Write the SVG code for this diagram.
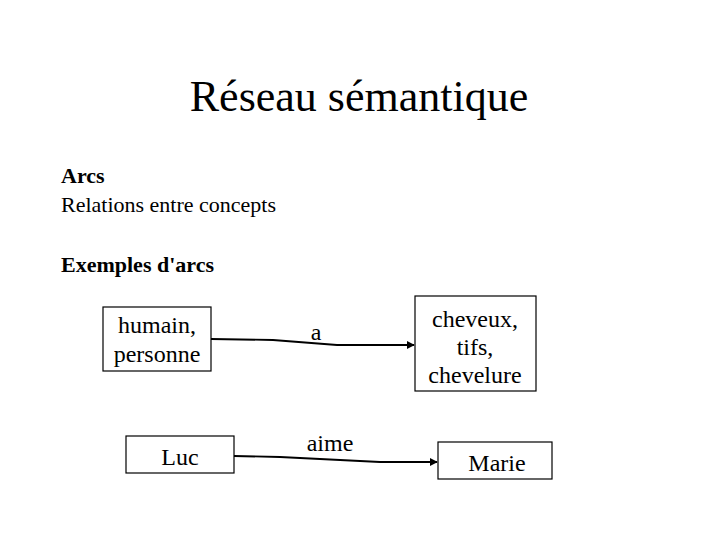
<svg xmlns="http://www.w3.org/2000/svg" width="720" height="540" viewBox="0 0 720 540">
<style>
text{font-family:"Liberation Serif","Times New Roman",serif;fill:#000}
.node rect{fill:#fff;stroke:#000;stroke-width:1.2}
.node text{font-size:24px;text-anchor:middle}
.edge{fill:none;stroke:#000;stroke-width:1.8}
.lbl{font-size:24px;text-anchor:middle}
</style>
<defs>
<marker id="ah" viewBox="0 0 10 10" refX="9" refY="5" markerWidth="4.5" markerHeight="4.5" orient="auto" markerUnits="strokeWidth">
<path d="M0,0 L10,5 L0,10 z" fill="#000"/>
</marker>
</defs>
<rect width="720" height="540" fill="#fff"/>
<text x="359" y="111" font-size="44" text-anchor="middle">Réseau sémantique</text>
<text x="61" y="183" font-size="22" font-weight="bold">Arcs</text>
<text x="61" y="212" font-size="22">Relations entre concepts</text>
<text x="61" y="272" font-size="22" font-weight="bold">Exemples d'arcs</text>
<g id="n-humain" class="node">
<rect x="103" y="307" width="108" height="64"/>
<text x="157" y="333">humain,</text>
<text x="157" y="362">personne</text>
</g>
<g id="n-cheveux" class="node">
<rect x="415" y="296" width="121" height="95"/>
<text x="475" y="327">cheveux,</text>
<text x="475" y="355">tifs,</text>
<text x="475" y="383">chevelure</text>
</g>
<g id="n-luc" class="node">
<rect x="126" y="436" width="108" height="37"/>
<text x="180" y="465">Luc</text>
</g>
<g id="n-marie" class="node">
<rect x="438" y="442" width="114" height="37"/>
<text x="497" y="471">Marie</text>
</g>
<g id="connectors">
<path class="edge" d="M211,339 L273,340 L337,345 L414,345" marker-end="url(#ah)"/>
<path class="edge" d="M234,456 L280,457 L380,462 L437,462" marker-end="url(#ah)"/>
<text class="lbl" x="316" y="340">a</text>
<text class="lbl" x="330" y="451">aime</text>
</g>
</svg>
